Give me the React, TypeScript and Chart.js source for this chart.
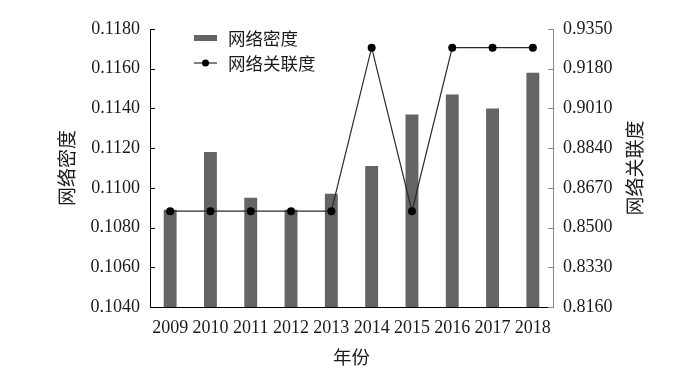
import React, { useEffect, useRef } from "react";
import { Chart, registerables } from "chart.js";

Chart.register(...registerables);

const years = ["2009", "2010", "2011", "2012", "2013", "2014", "2015", "2016", "2017", "2018"];
const networkDensity = [0.1089, 0.1118, 0.1095, 0.1089, 0.1097, 0.1111, 0.1137, 0.1147, 0.1140, 0.1158];
const networkRelevance = [0.857, 0.857, 0.857, 0.857, 0.857, 0.927, 0.857, 0.927, 0.927, 0.927];
const leftTicks = [0.104, 0.106, 0.108, 0.110, 0.112, 0.114, 0.116, 0.118];
const rightTicks = [0.816, 0.833, 0.850, 0.867, 0.884, 0.901, 0.918, 0.935];
const densityLabel = "网络密度";
const relevanceLabel = "网络关联度";
const xTitle = "年份";

const SERIF = '"Liberation Serif", "Times New Roman", serif';
const CJK = '"Noto Sans CJK SC", "Noto Sans CJK JP", sans-serif';
const BAR_COLOR = "#646464";
const LINE_COLOR = "#2a2a2a";
const TEXT_COLOR = "#1a1a1a";

const decorPlugin = {
  id: "decor",
  afterDraw(chart: any) {
    const { ctx, chartArea } = chart;
    const yL = chart.scales.y;
    const yR = chart.scales.y1;
    ctx.save();
    // inward tick marks
    ctx.lineWidth = 1;
    ctx.strokeStyle = "#000";
    yL.ticks.forEach((t: any) => {
      const py = Math.round(yL.getPixelForValue(t.value)) + 0.5;
      ctx.beginPath();
      ctx.moveTo(chartArea.left, py);
      ctx.lineTo(chartArea.left + 5, py);
      ctx.stroke();
    });
    ctx.strokeStyle = "#8a8a8a";
    yR.ticks.forEach((t: any) => {
      const py = Math.round(yR.getPixelForValue(t.value)) + 0.5;
      ctx.beginPath();
      ctx.moveTo(chartArea.right - 5, py);
      ctx.lineTo(chartArea.right, py);
      ctx.stroke();
    });
    // right axis title, reading bottom-to-top
    ctx.fillStyle = TEXT_COLOR;
    ctx.font = `19px ${CJK}`;
    ctx.textAlign = "center";
    ctx.textBaseline = "middle";
    ctx.translate(chartArea.right + 82, (chartArea.top + chartArea.bottom) / 2);
    ctx.rotate(-Math.PI / 2);
    ctx.fillText(relevanceLabel, 0, 0);
    ctx.restore();

    // legend
    ctx.save();
    const lx = chartArea.left + 44;
    const ly1 = chartArea.top + 9;
    const ly2 = chartArea.top + 34;
    ctx.fillStyle = BAR_COLOR;
    ctx.fillRect(lx, ly1 - 3, 23, 6);
    ctx.strokeStyle = LINE_COLOR;
    ctx.lineWidth = 1.2;
    ctx.beginPath();
    ctx.moveTo(lx, ly2);
    ctx.lineTo(lx + 23, ly2);
    ctx.stroke();
    ctx.fillStyle = "#000";
    ctx.beginPath();
    ctx.arc(lx + 11.5, ly2, 3.5, 0, Math.PI * 2);
    ctx.fill();
    ctx.fillStyle = TEXT_COLOR;
    ctx.font = `17.5px ${CJK}`;
    ctx.textAlign = "left";
    ctx.textBaseline = "middle";
    ctx.fillText(densityLabel, lx + 34, ly1);
    ctx.fillText(relevanceLabel, lx + 34, ly2);
    ctx.restore();
  },
};

export default function App() {
  const canvasRef = useRef<HTMLCanvasElement>(null);

  useEffect(() => {
    const canvas = canvasRef.current;
    if (!canvas) return;
    const chart = new Chart(canvas, {
      type: "bar",
      data: {
        labels: years,
        datasets: [
          {
            type: "line",
            label: relevanceLabel,
            data: networkRelevance,
            yAxisID: "y1",
            borderColor: LINE_COLOR,
            borderWidth: 1.2,
            pointRadius: 4,
            pointBackgroundColor: "#000",
            pointBorderColor: "#000",
            pointBorderWidth: 0,
            tension: 0,
            order: 0,
          } as any,
          {
            type: "bar",
            label: densityLabel,
            data: networkDensity,
            yAxisID: "y",
            backgroundColor: BAR_COLOR,
            borderColor: "#505050",
            borderWidth: 0,
            categoryPercentage: 1,
            barPercentage: 0.32,
            order: 1,
          } as any,
        ],
      },
      options: {
        responsive: false,
        animation: false,
        layout: { padding: { top: 29, left: 0, right: 0, bottom: 0 } },
        plugins: {
          legend: { display: false },
          tooltip: { enabled: false },
        },
        scales: {
          x: {
            grid: { display: false, drawTicks: false },
            border: { display: true, color: "#000", width: 1 },
            ticks: {
              color: TEXT_COLOR,
              font: { family: SERIF, size: 18 },
              padding: 10,
              maxRotation: 0,
              autoSkip: false,
            },
            title: {
              display: true,
              text: xTitle,
              color: TEXT_COLOR,
              font: { family: CJK, size: 18.5 },
              padding: { top: 0, bottom: 2 },
            },
            afterFit: (s: any) => {
              s.height = 63;
            },
          },
          y: {
            position: "left",
            min: 0.104,
            max: 0.118,
            grid: { display: false, drawTicks: false },
            border: { display: true, color: "#000", width: 1 },
            ticks: {
              color: TEXT_COLOR,
              font: { family: SERIF, size: 18 },
              padding: 10,
              callback: (v: any) => Number(v).toFixed(4),
            },
            afterBuildTicks: (s: any) => {
              s.ticks = leftTicks.map((v) => ({ value: v }));
            },
            title: {
              display: true,
              text: densityLabel,
              color: TEXT_COLOR,
              font: { family: CJK, size: 19 },
              padding: { top: 55, bottom: 0 },
            },
            afterFit: (s: any) => {
              s.width = 150;
            },
          },
          y1: {
            position: "right",
            min: 0.816,
            max: 0.935,
            grid: { display: false, drawTicks: false },
            border: { display: true, color: "#8a8a8a", width: 1 },
            ticks: {
              color: TEXT_COLOR,
              font: { family: SERIF, size: 18 },
              padding: 10,
              callback: (v: any) => Number(v).toFixed(4),
            },
            afterBuildTicks: (s: any) => {
              s.ticks = rightTicks.map((v) => ({ value: v }));
            },
            afterFit: (s: any) => {
              s.width = 132;
            },
          },
        },
      },
      plugins: [decorPlugin],
    });
    return () => chart.destroy();
  }, []);

  return (
    <div style={{ position: "absolute", left: 0, top: 0, width: 685, height: 370, background: "#fff" }}>
      <canvas ref={canvasRef} width={685} height={370} />
    </div>
  );
}
